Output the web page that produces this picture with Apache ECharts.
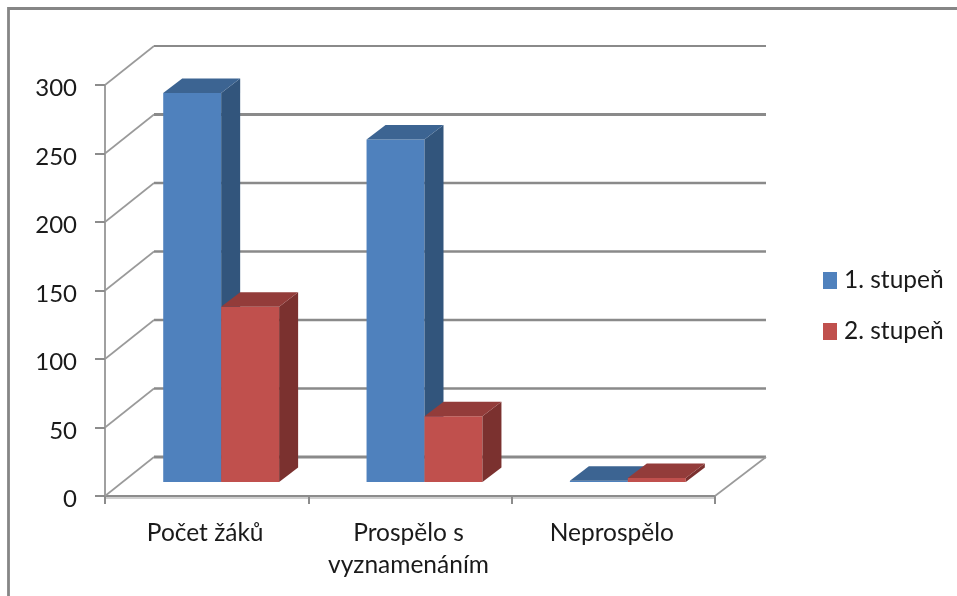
<!DOCTYPE html>
<html>
<head>
<meta charset="utf-8">
<style>html,body{margin:0;padding:0;background:#fff}#c{width:957px;height:596px}</style>
<script src="https://cdn.jsdelivr.net/npm/echarts@6/dist/echarts.min.js"></script>
</head>
<body>
<div id="c"></div>
<script>
const categories = ['Počet žáků', 'Prospělo s\nvyznamenáním', 'Neprospělo'];
const seriesNames = ['1. stupeň', '2. stupeň'];
const firstGrade = [284, 250, 1];
const secondGrade = [128, 48, 3];
const wallTicks = [0, 50, 100, 150, 200, 250, 300];

const FONT = 'Lato';
const TEXT = '#1a1a1a';
const WALL_DX = 49, WALL_DY = -39;      // depth of the chart box
const BAR_DX = 14.5, BAR_DY = -14;      // where the bar's front plane stands inside the box
const SIDE_DX = 19, SIDE_DY = -14.5;    // depth of a bar
const BAR_BAND = 0.285;                 // bar width as a share of the category band
const wallWidths = {0: 3, 50: 2.4, 100: 2.4, 150: 2.6, 200: 2.4, 250: 3, 300: 1.8};

const palette = [
  {front: '#4F81BD', side: '#32557C', top: '#3C6492'},
  {front: '#C0504D', side: '#7B312F', top: '#933C3A'}
];

function poly(points, fill) {
  return {type: 'polygon', shape: {points}, style: {fill, stroke: null}};
}

function barRenderer(seriesIndex) {
  return function (params, api) {
    const base = api.coord([api.value(0), 0]);
    const top = api.coord([api.value(0), api.value(1)]);
    const w = api.size([1, 0])[0] * BAR_BAND;
    const x0 = base[0] + BAR_DX + (seriesIndex - 1) * w;
    const x1 = x0 + w;
    const yb = base[1] + BAR_DY;
    const yt = top[1] + BAR_DY;
    const c = palette[seriesIndex];
    return {
      type: 'group',
      children: [
        poly([[x0, yb], [x1, yb], [x1, yt], [x0, yt]], c.front),
        poly([[x1, yb], [x1 + SIDE_DX, yb + SIDE_DY], [x1 + SIDE_DX, yt + SIDE_DY], [x1, yt]], c.side),
        poly([[x0, yt], [x1, yt], [x1 + SIDE_DX, yt + SIDE_DY], [x0 + SIDE_DX, yt + SIDE_DY]], c.top)
      ]
    };
  };
}

function wallRenderer(params, api) {
  const v = api.value(1);
  const p = api.coord([0, v]);
  const band = api.size([1, 0])[0];
  const xl = p[0] - band / 2;
  const xr = xl + band * categories.length;
  const y = p[1];
  const children = [
    {type: 'line', shape: {x1: xl, y1: y, x2: xl + WALL_DX, y2: y + WALL_DY},
     style: {stroke: '#9a9a9a', lineWidth: 1.6}},
    {type: 'line', shape: {x1: xl + WALL_DX, y1: y + WALL_DY, x2: xr + WALL_DX + 2, y2: y + WALL_DY},
     style: {stroke: '#8a8a8a', lineWidth: wallWidths[v]}}
  ];
  if (v === 0) {
    children.push({type: 'line', shape: {x1: xr, y1: y, x2: xr + WALL_DX + 2, y2: y + WALL_DY},
      style: {stroke: '#9a9a9a', lineWidth: 1.6}});
  }
  return {type: 'group', children};
}

const chart = echarts.init(document.getElementById('c'), null, {renderer: 'canvas'});
chart.setOption({
  animation: false,
  backgroundColor: '#fff',
  textStyle: {fontFamily: FONT},
  graphic: [{
    type: 'polyline',
    silent: true,
    shape: {points: [[8.5, 596], [8.5, 8.5], [957, 8.5]]},
    style: {stroke: '#868686', lineWidth: 2.8, fill: null}
  }],
  grid: {left: 105, right: 242, top: 85, bottom: 100, containLabel: false},
  legend: {
    orient: 'vertical',
    left: 823,
    top: 268,
    padding: 0,
    icon: 'rect',
    itemWidth: 14,
    itemHeight: 17,
    itemGap: 26,
    selectedMode: false,
    data: seriesNames,
    textStyle: {fontFamily: FONT, fontSize: 24.5, color: TEXT, lineHeight: 17, padding: [0, 0, 0, 2]},
    formatter: n => n
  },
  xAxis: {
    type: 'category',
    data: categories,
    axisLine: {lineStyle: {color: '#8c8c8c', width: 2, shadowColor: '#cfcfcf', shadowOffsetY: 2, shadowBlur: 0}},
    axisTick: {show: true, length: 8, alignWithLabel: false, lineStyle: {color: '#8c8c8c', width: 2}},
    axisLabel: {
      fontFamily: FONT, fontSize: 24.5, color: TEXT, margin: 21, lineHeight: 32,
      padding: [0, 3, 0, 0], interval: 0, hideOverlap: false
    },
    splitLine: {show: false}
  },
  yAxis: {
    type: 'value',
    min: 0,
    max: 300,
    interval: 50,
    axisLine: {show: true, lineStyle: {color: '#a0a0a0', width: 2}},
    axisTick: {show: true, length: 10, lineStyle: {color: '#8c8c8c', width: 2}},
    axisLabel: {
      margin: 28,
      formatter: '{a|{value}}',
      rich: {a: {fontFamily: FONT, fontSize: 24, color: TEXT, padding: [7, 0, 0, 0]}}
    },
    splitLine: {show: false}
  },
  series: [
    {
      type: 'custom', name: 'wall', silent: true, z: 1,
      data: wallTicks.map(v => [0, v]),
      encode: {x: 0, y: 1},
      renderItem: wallRenderer
    },
    {
      type: 'custom', name: seriesNames[0], silent: true, z: 2,
      itemStyle: {color: palette[0].front},
      data: firstGrade.map((v, i) => [i, v]),
      encode: {x: 0, y: 1},
      renderItem: barRenderer(0)
    },
    {
      type: 'custom', name: seriesNames[1], silent: true, z: 3,
      itemStyle: {color: palette[1].front},
      data: secondGrade.map((v, i) => [i, v]),
      encode: {x: 0, y: 1},
      renderItem: barRenderer(1)
    }
  ]
});
</script>
</body>
</html>
